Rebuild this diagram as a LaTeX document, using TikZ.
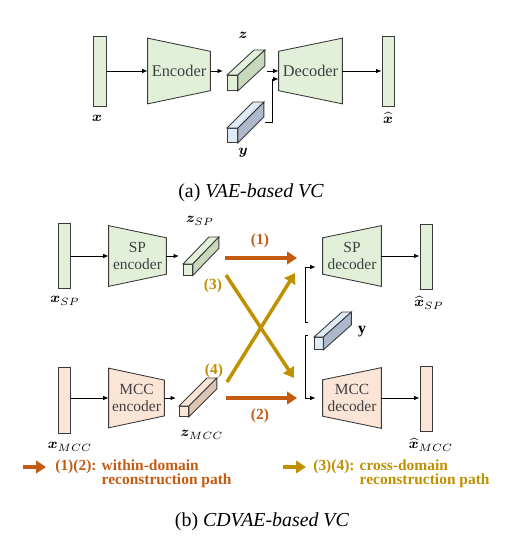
\documentclass[tikz,border=0pt]{standalone}
\usepackage{amsmath}
\usepackage{bm}
\usepackage{fontspec}
\setmainfont{Liberation Serif}
\usetikzlibrary{calc,arrows.meta,backgrounds}

\definecolor{spgreen}{HTML}{E2F0D9}
\definecolor{spside}{HTML}{C8D8BB}
\definecolor{mccpink}{HTML}{FBE5D6}
\definecolor{mccside}{HTML}{DCC4B4}
\definecolor{yblue}{HTML}{DEEBF7}
\definecolor{yside}{HTML}{ADB9CA}
\definecolor{edgegray}{HTML}{3A3A3A}
\definecolor{withincol}{HTML}{C55A11}
\definecolor{crosscol}{HTML}{BF9000}

\tikzset{
  blockline/.style={draw=edgegray, line width=0.5pt},
  featbar/.style={blockline, rectangle, inner sep=0pt},
  trapbox/.style={inner sep=0pt, align=center, text=black!75},
  cubeface/.style={blockline, rectangle, inner sep=0pt, anchor=north west},
  varlabel/.style={inner sep=0pt, font=\fontsize{8}{9}\selectfont},
  sig/.style={-{Latex[length=1.1mm,width=0.9mm]}, line width=0.5pt},
  thickpath/.style={line width=0.7mm, -{Triangle[length=2mm,width=2.5mm]}},
  pathlabel/.style={inner sep=0pt, font=\bfseries\fontsize{8.8}{8}\selectfont},
}

% trapezoid behind a text node, wide side left
\newcommand{\encoderhull}[2]{%
  \begin{scope}[on background layer]
    \draw[blockline, fill=#2] (#1.north west)
      -- ($(#1.north east)!0.2!(#1.south east)$)
      -- ($(#1.north east)!0.8!(#1.south east)$)
      -- (#1.south west) -- cycle;
  \end{scope}}
% trapezoid behind a text node, wide side right
\newcommand{\decoderhull}[2]{%
  \begin{scope}[on background layer]
    \draw[blockline, fill=#2] (#1.north east)
      -- ($(#1.north west)!0.2!(#1.south west)$)
      -- ($(#1.north west)!0.8!(#1.south west)$)
      -- (#1.south east) -- cycle;
  \end{scope}}
% latent bar: name, front top-left, width, height, front fill, side fill, depth
\newcommand{\latentcube}[7]{%
  \node[cubeface, minimum width=#3, minimum height=#4, fill=#5] (#1) at (#2) {};
  \draw[blockline, fill=#5] (#1.north west) -- ++(#7) -- ($(#1.north east)+(#7)$) -- (#1.north east) -- cycle;
  \draw[blockline, fill=#6] (#1.north east) -- ++(#7) -- ($(#1.south east)+(#7)$) -- (#1.south east) -- cycle;}

\begin{document}
\begin{tikzpicture}[x=0.02cm, y=-0.02cm]
\useasboundingbox (0,0) rectangle (506,537);

% ---------- (a) VAE-based VC ----------
 \node[featbar, fill=spgreen, minimum width=2.6mm, minimum height=14mm] (xin) at (100,71) {};
 \node[varlabel] (xinlbl) at (97,118) {$\bm{x}$};

 \node[trapbox, minimum width=12.4mm, minimum height=13mm, font=\fontsize{9.3}{10}\selectfont] (enc) at (179,71) {Encoder};
 \encoderhull{enc}{spgreen}
 \draw[sig] (xin.east) -- (enc.west); % input to encoder

 \latentcube{zcube}{227,75}{2mm}{3mm}{spgreen}{spside}{27,-25}
 \node[varlabel] (zlbl) at (243,35) {$\bm{z}$};
 \draw[sig] (enc.east) -- ([xshift=-0.8mm]zcube.west |- enc.east);

 \latentcube{ycube}{227,128}{2mm}{2.8mm}{yblue}{yside}{26,-26}
 \node[varlabel] (ylbl) at (243,153) {$\bm{y}$};

 \node[trapbox, minimum width=12.6mm, minimum height=13mm, font=\fontsize{9.3}{10}\selectfont] (dec) at (310.5,71) {Decoder};
 \decoderhull{dec}{spgreen}
 \coordinate (ztail) at (267,71);
 \coordinate (ytail) at (265,122);
 \draw[sig] (ztail) -- (dec.west);
 \draw[sig] (ytail) -- ++(7,0) |- ([yshift=-1.6mm]dec.west); % speaker code in

 \node[featbar, fill=spgreen, minimum width=2.4mm, minimum height=14mm] (xout) at (388,71) {};
 \node[varlabel] (xoutlbl) at (388,118) {$\widehat{\bm{x}}$};
 \draw[sig] (dec.east) -- (xout.west);

 \node[inner sep=0pt, font=\fontsize{11.3}{12}\selectfont] (capa) at (251,193) {(a) \textit{VAE-based VC}};

% ---------- (b) CDVAE-based VC ----------
% SP branch
 \node[featbar, fill=spgreen, minimum width=2.4mm, minimum height=13mm] (xsp) at (64,256) {};
 \node[varlabel] (xsplbl) at (65,301) {$\bm{x}_{SP}$};
 \node[trapbox, minimum width=11.4mm, minimum height=12mm, font=\fontsize{8.8}{10}\selectfont] (spenc) at (137.5,256) {SP\\encoder};
 \encoderhull{spenc}{spgreen}
 \draw[sig] (xsp.east) -- (spenc.west);
 \latentcube{zsp}{183,264}{1.8mm}{2.1mm}{spgreen}{spside}{26,-27}
 \node[varlabel] (zsplbl) at (200,221) {$\bm{z}_{SP}$};
 \draw[sig] (spenc.east) -- ([xshift=-0.8mm]zsp.west |- spenc.east);

 \node[trapbox, minimum width=11.6mm, minimum height=12mm, font=\fontsize{8.8}{10}\selectfont] (spdec) at (352,256) {SP\\decoder};
 \decoderhull{spdec}{spgreen}
 \node[featbar, fill=spgreen, minimum width=2.4mm, minimum height=13mm] (xhsp) at (426,257) {};
 \node[varlabel] (xhsplbl) at (429,303) {$\widehat{\bm{x}}_{SP}$};
 \draw[sig] (spdec.east) -- (spdec.east -| xhsp.west);

% MCC branch
 \node[featbar, fill=mccpink, minimum width=2.5mm, minimum height=13.2mm] (xmcc) at (64.5,400) {};
 \node[varlabel] (xmcclbl) at (70,447) {$\bm{x}_{MCC}$};
 \node[trapbox, minimum width=11mm, minimum height=11.8mm, font=\fontsize{8.8}{10}\selectfont] (mccenc) at (136.5,398) {MCC\\encoder};
 \encoderhull{mccenc}{mccpink}
 \draw[sig] (xmcc.east |- mccenc.west) -- (mccenc.west);
 \latentcube{zmcc}{179,406}{1.8mm}{2mm}{mccpink}{mccside}{28,-28}
 \node[varlabel] (zmcclbl) at (202,435) {$\bm{z}_{MCC}$};
 \draw[sig] (mccenc.east) -- ([xshift=-0.6mm]zmcc.west |- mccenc.east);

 \node[trapbox, minimum width=11.6mm, minimum height=12mm, font=\fontsize{8.8}{10}\selectfont] (mccdec) at (352,398) {MCC\\decoder};
 \decoderhull{mccdec}{mccpink}
 \node[featbar, fill=mccpink, minimum width=2.4mm, minimum height=13mm] (xhmcc) at (426,398.5) {};
 \node[varlabel] (xhmcclbl) at (431,445) {$\widehat{\bm{x}}_{MCC}$};
 \draw[sig] (mccdec.east) -- (mccdec.east -| xhmcc.west);

% speaker code shared by both decoders
 \latentcube{ysh}{314,337}{1.7mm}{2.4mm}{yblue}{yside}{28,-25}
 \node[varlabel, font=\fontsize{9}{10}\selectfont] (yshlbl) at (362,332) {$\mathbf{y}$};
 \coordinate (ybrtop) at (308,322);
 \coordinate (ybrbot) at (308,335);
 \draw[sig] (ybrtop) -- ++(-3,0) |- ([xshift=-1.4mm,yshift=-2.2mm]spdec.west);
 \draw[sig] (ybrbot) -- ++(-3,0) |- ([xshift=-1.4mm]mccdec.west);

% within-domain paths
 \coordinate (wAs) at (225,258);  \coordinate (wAe) at (297,258);
 \coordinate (wBs) at (226,398);  \coordinate (wBe) at (297,398);
 \draw[thickpath, withincol] (wAs) -- (wAe);
 \draw[thickpath, withincol] (wBs) -- (wBe);
 \node[pathlabel, text=withincol] (lab1) at (260,241) {(1)};
 \node[pathlabel, text=withincol] (lab2) at (260,416) {(2)};

% cross-domain paths
 \coordinate (cAs) at (226,275);  \coordinate (cAe) at (294,378);
 \coordinate (cBs) at (227,382);  \coordinate (cBe) at (295,273);
 \draw[thickpath, crosscol] (cAs) -- (cAe);
 \draw[thickpath, crosscol] (cBs) -- (cBe);
 \node[pathlabel, text=crosscol] (lab3) at (213,286) {(3)};
 \node[pathlabel, text=crosscol] (lab4) at (214,371) {(4)};

% legend
 \coordinate (lgAs) at (23,467);  \coordinate (lgAe) at (46,467);
 \draw[thickpath, withincol] (lgAs) -- (lgAe);
 \node[pathlabel, text=withincol, anchor=base west] (leg1) at (55,470)
   {(1)(2): \begin{tabular}[t]{@{}l@{}}within-domain\\reconstruction path\end{tabular}};
 \coordinate (lgBs) at (283,467);  \coordinate (lgBe) at (306,467);
 \draw[thickpath, crosscol] (lgBs) -- (lgBe);
 \node[pathlabel, text=crosscol, anchor=base west] (leg2) at (313,470)
   {(3)(4): \begin{tabular}[t]{@{}l@{}}cross-domain\\reconstruction path\end{tabular}};

 \node[inner sep=0pt, font=\fontsize{11.3}{12}\selectfont] (capb) at (262,522) {(b) \textit{CDVAE-based VC}};

\end{tikzpicture}
\end{document}
